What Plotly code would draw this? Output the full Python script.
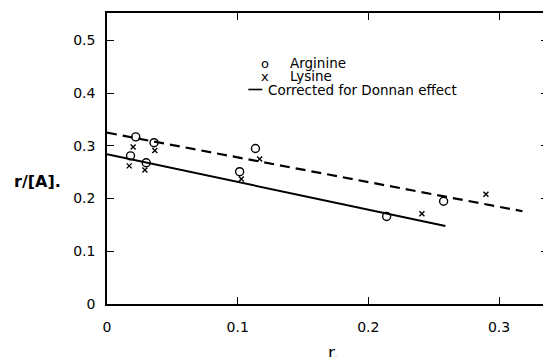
import plotly.graph_objects as go

# ---- Data ----
arg_x = [0.018, 0.022, 0.030, 0.036, 0.1015, 0.1136, 0.214, 0.2576]
arg_y = [0.281, 0.317, 0.268, 0.306, 0.251, 0.295, 0.166, 0.195]

lys_x = [0.017, 0.020, 0.029, 0.0366, 0.1028, 0.1168, 0.241, 0.290]
lys_y = [0.262, 0.298, 0.254, 0.291, 0.237, 0.275, 0.171, 0.208]

corr_x = [0.0, 0.259]
corr_y = [0.284, 0.148]

unc_x = [0.0, 0.318]
unc_y = [0.325, 0.176]

x_ticks = [0, 0.1, 0.2, 0.3]
x_ticktext = ["0", "0.1", "0.2", "0.3"]
y_ticks = [0, 0.1, 0.2, 0.3, 0.4, 0.5]
y_ticktext = ["0", "0.1", "0.2", "0.3", "0.4", "0.5"]

legend_names = ["Arginine", "Lysine", "Corrected for Donnan effect"]
legend_glyphs = ["o", "x"]

FONT = "DejaVu Sans"

# page body has an 8px default margin, so the figure is sized to fit the window
W, H = 543, 349
ML, MR, MT, MB = 99, 1, 5, 53

fig = go.Figure()
fig.add_trace(go.Scatter(x=arg_x, y=arg_y, mode="markers", name=legend_names[0],
                         showlegend=False,
                         marker=dict(symbol="circle-open", size=8, color="black",
                                     line=dict(width=1.4, color="black"))))
fig.add_trace(go.Scatter(x=lys_x, y=lys_y, mode="markers", name=legend_names[1],
                         showlegend=False,
                         marker=dict(symbol="x-thin", size=5, color="black",
                                     line=dict(width=1.4, color="black"))))
fig.add_trace(go.Scatter(x=corr_x, y=corr_y, mode="lines", name=legend_names[2],
                         showlegend=False, line=dict(color="black", width=2)))
fig.add_trace(go.Scatter(x=unc_x, y=unc_y, mode="lines", showlegend=False,
                         line=dict(color="black", width=2.2, dash="10px,6px")))

axis_common = dict(showgrid=False, zeroline=False, showline=True, linecolor="black",
                   linewidth=1.5, mirror="ticks", ticks="inside", ticklen=7,
                   tickwidth=1.2, tickcolor="black",
                   tickfont=dict(family=FONT, size=14, color="black"))

fig.update_xaxes(range=[0, 0.3375], tickvals=x_ticks, ticktext=x_ticktext,
                 ticklabelstandoff=9, **axis_common)
fig.update_yaxes(range=[0, 0.552], tickvals=y_ticks, ticktext=y_ticktext,
                 ticklabelstandoff=7, **axis_common)

# axis titles (horizontal, as in the reference)
fig.add_annotation(text="<b>r/[A].</b>", xref="paper", yref="paper",
                   x=0, y=1, xshift=-95, yshift=-168, xanchor="left", yanchor="middle",
                   showarrow=False, font=dict(family=FONT, size=16, color="black"))
fig.add_annotation(text="r.", xref="paper", yref="paper",
                   x=0, y=0, xshift=226, yshift=-37, xanchor="center", yanchor="top",
                   showarrow=False, font=dict(family=FONT, size=17, color="black"))

# hand-set legend (rows 13px apart like the reference)
LEG_FS = 13.5
row_y = [-50, -63, -76.5]
for i, g in enumerate(legend_glyphs):
    fig.add_annotation(text=g, xref="paper", yref="paper", x=0, y=1,
                       xshift=158, yshift=row_y[i], xanchor="center", yanchor="middle",
                       showarrow=False, borderpad=0,
                       font=dict(family=FONT, size=13, color="black"))
for i, name in enumerate(legend_names[:2]):
    fig.add_annotation(text=name, xref="paper", yref="paper", x=0, y=1,
                       xshift=182, yshift=row_y[i], xanchor="left", yanchor="middle",
                       showarrow=False, borderpad=0,
                       font=dict(family=FONT, size=LEG_FS, color="black"))
fig.add_annotation(text=legend_names[2], xref="paper", yref="paper", x=0, y=1,
                   xshift=160, yshift=row_y[2], xanchor="left", yanchor="middle",
                   showarrow=False, borderpad=0,
                   font=dict(family=FONT, size=LEG_FS, color="black"))
pw = W - ML - MR
ph = H - MT - MB
fig.add_shape(type="line", xref="paper", yref="paper",
              x0=142 / pw, x1=156 / pw, y0=1 + row_y[2] / ph, y1=1 + row_y[2] / ph,
              line=dict(color="black", width=1.6))

fig.update_layout(
    width=W, height=H,
    margin=dict(l=ML, r=MR, t=MT, b=MB),
    paper_bgcolor="white", plot_bgcolor="white",
    font=dict(family=FONT, size=12, color="black"),
    showlegend=False,
)

fig.write_html("out.html")
